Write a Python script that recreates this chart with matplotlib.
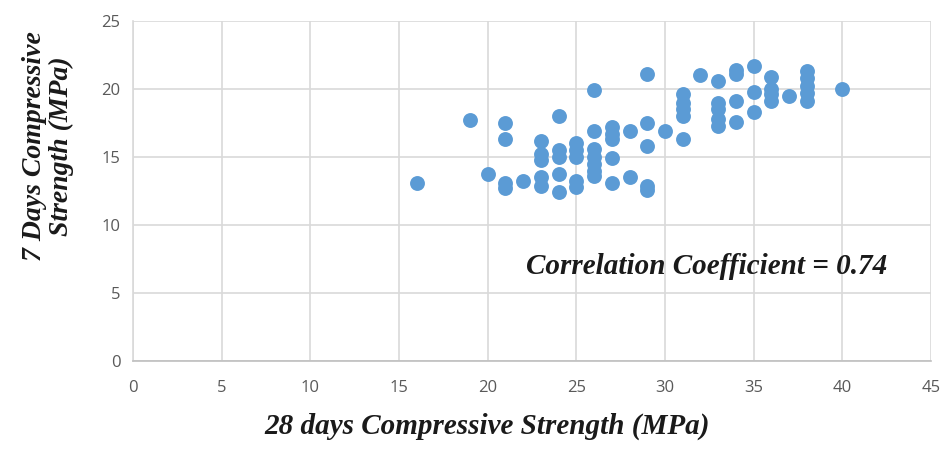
import matplotlib
matplotlib.use("Agg")
import matplotlib.pyplot as plt

# 28-day strength (x) vs 7-day strength (y), MPa
strength_28d = [16, 19, 20,
                21, 21, 21, 21, 22,
                23, 23, 23, 23, 23,
                24, 24, 24, 24, 24,
                25, 25, 25, 25, 25,
                26, 26, 26, 26, 26, 26, 26,
                27, 27, 27, 27, 27,
                28, 28,
                29, 29, 29, 29, 29,
                30,
                31, 31, 31, 31, 31,
                32,
                33, 33, 33, 33, 33,
                34, 34, 34, 34,
                35, 35, 35,
                36, 36, 36, 36,
                37,
                38, 38, 38, 38, 38,
                40]
strength_7d = [13.1, 17.7, 13.75,
               17.5, 16.35, 13.1, 12.7, 13.2,
               16.2, 15.2, 14.8, 13.5, 12.9,
               18.0, 15.5, 15.0, 13.75, 12.4,
               16.0, 15.5, 15.0, 13.2, 12.8,
               19.9, 16.9, 15.6, 15.0, 14.5, 14.0, 13.6,
               17.2, 16.7, 16.3, 14.9, 13.1,
               16.9, 13.5,
               21.1, 17.5, 15.8, 12.9, 12.6,
               16.9,
               19.6, 19.0, 18.5, 18.0, 16.3,
               21.0,
               20.6, 19.0, 18.5, 17.8, 17.3,
               21.4, 21.1, 19.1, 17.6,
               21.7, 19.75, 18.3,
               20.9, 20.0, 19.6, 19.1,
               19.5,
               21.3, 20.8, 20.2, 19.7, 19.1,
               20.0]

x_ticks = [0, 5, 10, 15, 20, 25, 30, 35, 40, 45]
y_ticks = [0, 5, 10, 15, 20, 25]
r_value = 0.74

fig = plt.figure(figsize=(9.44, 4.5), dpi=100)
ax = fig.add_axes([133/944, 1 - 361/450, (931-133)/944, (361-21)/450])

ax.scatter(strength_28d, strength_7d, s=115, color="#5B9BD5", zorder=3, linewidths=0)

ax.set_xlim(0, 45)
ax.set_ylim(0, 25)
ax.set_xticks(x_ticks)
ax.set_yticks(y_ticks)
ax.grid(True, color="#D9D9D9", linewidth=1.2, zorder=0)
ax.tick_params(length=0, labelsize=12, labelcolor="#595959")
ax.tick_params(axis="x", pad=14)
ax.tick_params(axis="y", pad=9)
for lbl in ax.get_xticklabels() + ax.get_yticklabels():
    lbl.set_fontfamily("Open Sans")
for side in ["top", "right"]:
    ax.spines[side].set_visible(False)
ax.spines["left"].set_color("#D9D9D9")
ax.spines["bottom"].set_color("#BFBFBF")
ax.spines["left"].set_linewidth(1.2)
ax.spines["bottom"].set_linewidth(1.2)

serif = dict(family="Liberation Serif", weight="bold", style="italic", color="#1a1a1a")
fig.text(487/944, 1 - 426/450, "28 days Compressive Strength (MPa)", fontsize=21,
         ha="center", va="center", **serif)
fig.text(48/944, 1 - 146/450, "7 Days Compressive\nStrength (MPa)", fontsize=20,
         ha="center", va="center", rotation=90, linespacing=1.05, **serif)

# correlation note, placed in figure fractions
fig.text(707/944, 1 - 267/450, "Correlation Coefficient = %.2f" % r_value, fontsize=21,
         ha="center", va="center", **serif)

fig.savefig("out.png", dpi=100)
